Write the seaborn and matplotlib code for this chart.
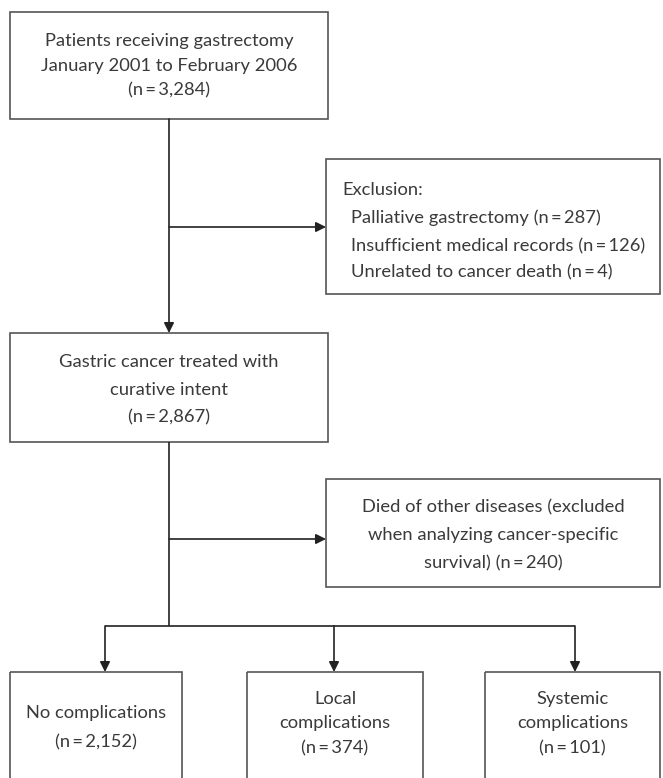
import matplotlib
matplotlib.use("Agg")
import matplotlib.pyplot as plt
from matplotlib.patches import Rectangle
import seaborn as sns

# ---- content (data) ----
stage_labels = ["Patients receiving gastrectomy", "January 2001 to February 2006"]
stage_n = 3284
cohort_labels = ["Gastric cancer treated with", "curative intent"]
cohort_n = 2867
exclusion_title = "Exclusion:"
exclusion_reasons = ["Palliative gastrectomy", "Insufficient medical records", "Unrelated to cancer death"]
exclusion_n = [287, 126, 4]
other_death_labels = ["Died of other diseases (excluded", "when analyzing cancer-specific", "survival)"]
other_death_n = 240
group_labels = [["No complications"], ["Local", "complications"], ["Systemic", "complications"]]
group_n = [2152, 374, 101]

def fmt_n(v):
    return "(n\u2009=\u2009{:,})".format(v)

sns.set_theme(style="white")
plt.rcParams["font.family"] = ["Lato", "DejaVu Sans"]

W, H = 663, 778
fig = plt.figure(figsize=(W / 100, H / 100), dpi=100)
ax = fig.add_axes([0, 0, 1, 1])
ax.set_xlim(0, W)
ax.set_ylim(H, 0)
ax.axis("off")

TXT = "#3a3a3a"
EDGE = "#555555"
LINE = "#222222"
FS = 13.2

def box(x0, y0, x1, y1):
    ax.add_patch(Rectangle((x0, y0), x1 - x0, y1 - y0, fill=False,
                           edgecolor=EDGE, lw=1.2))

def txt(x, y, s, ha="center"):
    ax.text(x, y, s, ha=ha, va="center", fontsize=FS, color=TXT,
            fontweight="normal")

def seg(xs, ys):
    ax.plot(xs, ys, color=LINE, lw=1.2, solid_capstyle="butt")

def arrow(x0, y0, x1, y1):
    ax.annotate("", xy=(x1, y1), xytext=(x0, y0),
                arrowprops=dict(arrowstyle="-|>", color=LINE, lw=1.2,
                                mutation_scale=15, shrinkA=0, shrinkB=0))

# Box 1
box(10, 12, 328, 119)
for y, s in zip([41, 66], stage_labels):
    txt(169, y, s)
txt(169, 90, fmt_n(stage_n))

# Exclusion box
box(326, 159, 660, 294)
txt(342, 190, exclusion_title, ha="left")
for y, r, n in zip([218, 246, 272], exclusion_reasons, exclusion_n):
    txt(351, y, "{} {}".format(r, fmt_n(n)), ha="left")

# Box 2
box(10, 333, 328, 442)
for y, s in zip([362, 390], cohort_labels):
    txt(169, y, s)
txt(169, 417, fmt_n(cohort_n))

# Died box
box(326, 479, 660, 587)
for y, s in zip([507, 535], other_death_labels[:2]):
    txt(493, y, s)
txt(493, 563, "{} {}".format(other_death_labels[2], fmt_n(other_death_n)))

# Bottom boxes
bx = [(10, 182), (247, 423), (485, 660)]
for (x0, x1), labels, n in zip(bx, group_labels, group_n):
    box(x0, 672, x1, 800)
    cx = (x0 + x1) / 2
    lines = labels + [fmt_n(n)]
    if len(lines) == 2:
        ys = [713, 742]
    else:
        ys = [699, 723, 748]
    for y, s in zip(ys, lines):
        txt(cx, y, s)

# Connectors
arrow(169, 119, 169, 333)
arrow(169, 227, 326, 227)
seg([169, 169], [442, 626])
arrow(169, 539, 326, 539)
seg([105, 575], [626, 626])
for x in [105, 334, 575]:
    arrow(x, 626, x, 672)

fig.savefig("out.png", dpi=100, facecolor="white")
